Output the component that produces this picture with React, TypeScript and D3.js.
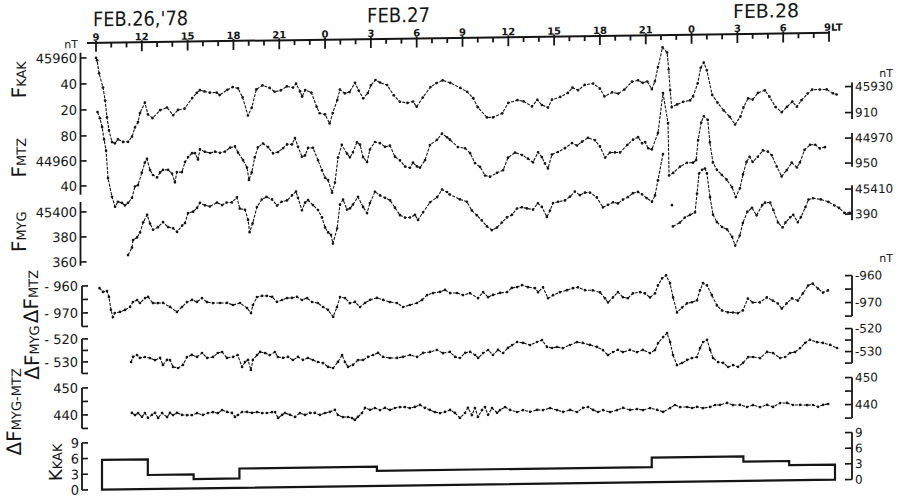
import React from "react";
import * as d3 from "d3";

// ---- time axis ----
const HOUR_START = 9;
const HOUR_END = 57;
const MAJOR_HOURS = [9, 12, 15, 18, 21, 24, 27, 30, 33, 36, 39, 42, 45, 48, 51, 54, 57];
const MAJOR_LABELS = ["9", "12", "15", "18", "21", "0", "3", "6", "9", "12", "15", "18", "21", "0", "3", "6", "9LT"];
const DATE_LABELS = ["FEB.26,'78", "FEB.27", "FEB.28"];

// ---- series: [hour since Feb26 00LT, value nT] ----
const fKAK: [number, number][] = [
  [9.0,45960],[9.07,45958],[9.2,45948],[9.46,45937],[9.6,45927],[9.72,45914],[9.85,45904],[10.05,45895],[10.24,45894],[10.44,45897],[10.77,45895],[11.1,45895],[11.36,45899],[11.55,45906],[11.75,45910],[11.88,45917],[12.2,45925],[12.4,45916],[12.7,45913],[13.2,45919],[13.65,45921],[14.05,45915],[14.37,45919],[14.8,45920],[15.3,45928],[15.6,45932],[15.8,45934],[16.1,45933],[16.46,45932],[16.9,45932],[17.1,45930],[17.6,45934],[17.95,45936],[18.3,45935],[18.6,45928],[18.95,45914],[19.2,45920],[19.5,45934],[19.9,45937],[20.37,45935],[20.7,45932],[21.1,45933],[21.5,45936],[21.9,45935],[22.1,45938],[22.36,45932],[22.5,45928],[22.7,45933],[23.1,45931],[23.45,45920],[23.65,45915],[24.0,45914],[24.3,45907],[24.5,45915],[24.8,45925],[24.97,45933],[25.3,45930],[25.6,45931],[25.96,45938],[26.2,45932],[26.5,45926],[26.8,45930],[27.0,45936],[27.3,45940],[27.6,45938],[28.06,45936],[28.5,45928],[28.9,45923],[29.4,45922],[29.76,45923],[30.0,45919],[30.4,45926],[30.9,45934],[31.3,45937],[31.7,45939],[32.2,45937],[32.85,45933],[33.3,45930],[33.7,45925],[34.0,45918],[34.6,45910],[35.0,45910],[35.6,45913],[36.0,45921],[36.6,45923],[37.0,45922],[37.55,45918],[37.9,45923],[38.2,45919],[38.6,45917],[38.86,45923],[39.4,45925],[39.9,45928],[40.2,45932],[40.57,45930],[41.0,45934],[41.55,45935],[42.0,45931],[42.3,45925],[42.8,45928],[43.2,45927],[43.6,45930],[44.1,45936],[44.5,45937],[44.8,45935],[45.1,45936],[45.4,45930],[45.6,45936],[45.8,45947],[46.1,45962],[46.4,45958],[46.5,45945],[46.6,45929],[46.7,45916],[47.05,45918],[47.45,45920],[47.9,45921],[48.1,45924],[48.4,45934],[48.6,45946],[48.8,45950],[49.0,45944],[49.35,45925],[49.7,45919],[50.1,45913],[50.5,45908],[50.85,45902],[51.2,45908],[51.4,45915],[51.7,45922],[52.0,45921],[52.35,45926],[52.8,45928],[53.1,45923],[53.5,45915],[53.9,45911],[54.25,45915],[54.6,45919],[54.9,45915],[55.2,45920],[55.6,45925],[55.9,45928],[56.4,45928],[56.85,45928],[57.25,45925],[57.5,45924]
];

const fMTZ: [number, number][] = [
  [9.0,44999],[9.16,44994],[9.3,44987],[9.43,44977],[9.56,44968],[9.69,44946],[9.95,44931],[10.15,44923],[10.34,44927],[10.6,44926],[10.8,44924],[11.0,44926],[11.26,44930],[11.45,44939],[11.65,44940],[11.9,44950],[12.1,44958],[12.24,44961],[12.44,44952],[12.63,44948],[12.9,44946],[13.1,44950],[13.29,44952],[13.62,44952],[13.88,44949],[14.07,44942],[14.2,44950],[14.53,44950],[14.73,44958],[14.93,44962],[15.19,44965],[15.38,44965],[15.58,44960],[15.71,44968],[16.04,44966],[16.37,44965],[16.7,44966],[17.02,44965],[17.35,44966],[17.68,44969],[18.0,44970],[18.2,44965],[18.53,44959],[18.79,44953],[18.92,44943],[19.1,44949],[19.3,44961],[19.5,44969],[19.84,44972],[20.17,44969],[20.5,44964],[20.82,44965],[21.15,44968],[21.41,44971],[21.74,44971],[21.93,44976],[22.13,44969],[22.39,44961],[22.59,44962],[22.79,44968],[23.11,44968],[23.44,44958],[23.7,44950],[23.9,44944],[24.1,44942],[24.36,44932],[24.55,44940],[24.75,44960],[25.0,44970],[25.34,44963],[25.53,44960],[25.73,44964],[25.99,44972],[26.19,44970],[26.39,44960],[26.65,44956],[26.84,44966],[27.17,44972],[27.5,44971],[27.83,44968],[28.15,44969],[28.48,44960],[28.81,44957],[29.14,44952],[29.46,44951],[29.66,44955],[29.92,44952],[30.12,44951],[30.45,44957],[30.77,44969],[31.23,44973],[31.56,44978],[31.89,44975],[32.08,44973],[32.6,44967],[33.07,44966],[33.4,44962],[33.72,44954],[34.05,44951],[34.38,44944],[34.7,44943],[35.16,44946],[35.56,44948],[35.88,44958],[36.34,44962],[36.8,44960],[37.19,44957],[37.52,44954],[37.85,44962],[38.1,44958],[38.3,44953],[38.5,44949],[38.76,44960],[39.15,44962],[39.61,44965],[40.07,44969],[40.4,44967],[40.73,44970],[41.12,44973],[41.58,44971],[41.9,44966],[42.24,44957],[42.56,44961],[42.89,44961],[43.22,44961],[43.7,44967],[44.07,44971],[44.4,44973],[44.66,44968],[44.86,44969],[45.06,44964],[45.3,44963],[45.7,44976],[46.03,45008],[46.36,44984],[46.43,44942],[46.7,44944],[47.15,44949],[47.6,44952],[48.0,44952],[48.2,44954],[48.33,44970],[48.53,44984],[48.7,44989],[48.96,44986],[49.1,44968],[49.3,44952],[49.56,44946],[49.88,44942],[50.2,44938],[50.55,44932],[50.8,44924],[51.07,44931],[51.27,44942],[51.5,44952],[51.7,44956],[51.9,44952],[52.24,44956],[52.57,44961],[52.9,44960],[53.16,44957],[53.48,44948],[53.8,44940],[54.14,44945],[54.46,44951],[54.8,44947],[55.0,44951],[55.3,44961],[55.66,44965],[56.0,44965],[56.3,44962],[56.64,44963]
];

const fMYG: [number, number | null][] = [
  [10.94,45365],[11.2,45371],[11.27,45377],[11.53,45379],[11.73,45383],[11.93,45391],[12.19,45397],[12.38,45390],[12.58,45385],[12.9,45387],[13.23,45391],[13.56,45387],[13.89,45386],[14.15,45383],[14.48,45388],[14.67,45390],[14.87,45398],[15.2,45399],[15.46,45402],[15.65,45406],[15.98,45404],[16.3,45403],[16.76,45406],[17.1,45404],[17.4,45406],[17.74,45406],[18.07,45410],[18.26,45401],[18.6,45400],[18.8,45392],[18.9,45382],[19.1,45389],[19.38,45402],[19.7,45408],[20.0,45410],[20.37,45408],[20.7,45403],[21.0,45406],[21.35,45407],[21.68,45411],[21.94,45414],[22.07,45409],[22.33,45399],[22.53,45405],[22.73,45407],[23.05,45403],[23.38,45399],[23.64,45393],[23.84,45385],[24.04,45381],[24.23,45379],[24.36,45372],[24.63,45384],[24.82,45403],[25.02,45407],[25.28,45399],[25.48,45400],[25.67,45403],[26.0,45409],[26.33,45401],[26.59,45396],[26.78,45404],[27.11,45413],[27.44,45410],[27.77,45408],[28.1,45406],[28.42,45400],[28.75,45394],[29.08,45392],[29.4,45392],[29.73,45394],[29.93,45390],[30.26,45396],[30.72,45404],[31.18,45408],[31.5,45414],[31.83,45412],[32.0,45410],[32.67,45406],[33.13,45404],[33.45,45397],[33.78,45393],[34.1,45389],[34.44,45384],[34.77,45381],[35.1,45383],[35.42,45387],[35.75,45391],[36.08,45393],[36.41,45398],[36.73,45399],[37.06,45398],[37.46,45397],[37.78,45402],[38.04,45399],[38.37,45391],[38.57,45396],[38.77,45402],[39.1,45403],[39.55,45404],[39.88,45407],[40.2,45411],[40.53,45408],[40.86,45410],[41.19,45410],[41.64,45406],[42.04,45398],[42.37,45400],[42.7,45402],[43.02,45401],[43.35,45404],[43.68,45406],[44.0,45409],[44.33,45410],[44.6,45408],[44.9,45405],[45.25,45402],[45.45,45407],[45.64,45419],[45.97,45440],[46.3,null],[46.56,45399],[46.59,null],[46.62,45382],[47.08,45385],[47.4,45389],[47.74,45391],[48.07,45393],[48.2,45408],[48.33,45424],[48.53,45427],[48.72,45428],[48.85,45424],[49.05,45405],[49.25,45391],[49.5,45385],[49.84,45381],[50.17,45379],[50.5,45373],[50.7,45366],[51.0,45374],[51.2,45384],[51.5,45393],[51.8,45396],[52.1,45390],[52.47,45398],[52.66,45400],[52.99,45400],[53.2,45394],[53.5,45384],[53.8,45380],[54.0,45384],[54.3,45388],[54.5,45390],[54.8,45384],[55.0,45388],[55.3,45396],[55.5,45402],[55.8,45403],[56.3,45402],[56.8,45400],[57.2,45397],[57.5,45395],[57.85,45391],[58.2,45391]
];

const dFMTZ: [number, number][] = [
  [9.0,-960.9],[9.23,-962.3],[9.49,-962.0],[9.62,-964.2],[9.75,-969.0],[9.88,-971.7],[10.0,-970.2],[10.34,-969.8],[10.67,-969.1],[11.0,-968.0],[11.19,-966.2],[11.46,-965.5],[11.65,-966.6],[11.98,-964.8],[12.18,-964.4],[12.5,-966.7],[12.83,-966.7],[13.16,-966.7],[13.62,-968.2],[14.07,-970.1],[14.4,-968.3],[14.73,-966.5],[15.06,-965.7],[15.38,-966.5],[15.71,-965.1],[16.04,-966.6],[16.43,-967.0],[16.9,-967.0],[17.35,-967.0],[17.74,-967.8],[18.2,-967.1],[18.66,-969.0],[18.92,-970.9],[19.05,-967.9],[19.31,-965.0],[19.64,-964.6],[19.97,-964.6],[20.3,-965.0],[20.62,-966.9],[20.95,-966.2],[21.28,-965.5],[21.6,-965.5],[21.93,-965.1],[22.26,-966.3],[22.59,-965.6],[22.92,-967.1],[23.3,-967.5],[23.64,-969.0],[23.96,-970.1],[24.3,-972.7],[24.55,-969.1],[24.75,-965.4],[25.08,-965.8],[25.4,-967.7],[25.73,-967.3],[26.06,-969.2],[26.39,-967.7],[26.72,-966.6],[27.17,-965.9],[27.57,-966.7],[28.02,-967.5],[28.48,-967.9],[28.88,-969.4],[29.33,-968.7],[29.79,-968.0],[30.12,-966.9],[30.45,-965.1],[30.84,-964.4],[31.3,-964.0],[31.63,-963.3],[31.96,-964.5],[32.41,-964.5],[32.8,-965.3],[33.26,-964.6],[33.79,-966.5],[34.12,-964.3],[34.45,-966.2],[34.77,-965.4],[35.23,-964.7],[35.69,-964.4],[36.0,-962.9],[36.35,-962.6],[36.67,-961.9],[37.06,-962.7],[37.52,-963.1],[37.72,-964.6],[38.04,-962.8],[38.37,-966.9],[38.7,-965.8],[39.15,-964.7],[39.61,-964.0],[40.0,-963.3],[40.33,-963.0],[40.79,-964.1],[41.3,-964.2],[41.78,-965.0],[42.1,-967.2],[42.3,-968.7],[42.63,-966.9],[42.95,-965.0],[43.28,-966.9],[43.6,-967.3],[43.93,-965.5],[44.4,-965.1],[44.72,-965.6],[45.05,-967.1],[45.38,-965.6],[45.57,-962.7],[45.84,-960.1],[46.1,-959.0],[46.36,-962.0],[46.56,-967.2],[46.82,-972.8],[47.15,-971.0],[47.47,-969.5],[47.8,-969.1],[48.13,-968.4],[48.32,-964.7],[48.52,-962.1],[48.78,-962.9],[49.1,-966.6],[49.43,-970.4],[49.76,-972.3],[50.15,-973.0],[50.48,-973.1],[50.8,-973.4],[51.13,-972.4],[51.46,-968.0],[51.78,-969.5],[52.24,-969.5],[52.7,-967.7],[53.09,-968.9],[53.42,-970.0],[53.68,-971.9],[54.0,-970.0],[54.34,-968.2],[54.73,-969.0],[55.06,-966.4],[55.4,-963.5],[55.7,-962.8],[56.05,-964.7],[56.38,-966.2],[56.7,-965.4]
];

const dFMYG: [number, number][] = [
  [11.02,-530.3],[11.15,-528.1],[11.41,-527.3],[11.6,-528.6],[11.93,-528.2],[12.26,-528.7],[12.59,-529.6],[12.92,-528.7],[13.11,-531.8],[13.37,-529.6],[13.57,-529.7],[13.77,-532.7],[14.1,-533.2],[14.42,-531.9],[14.68,-528.5],[15.0,-527.6],[15.34,-528.5],[15.67,-526.8],[16.0,-529.0],[16.39,-528.6],[16.7,-526.9],[16.98,-526.5],[17.3,-529.1],[17.7,-528.7],[18.0,-527.9],[18.29,-533.1],[18.48,-531.0],[18.68,-530.1],[18.87,-534.5],[19.0,-530.1],[19.27,-528.0],[19.47,-526.7],[19.8,-527.2],[20.1,-528.1],[20.44,-526.8],[20.64,-529.0],[20.97,-529.4],[21.3,-529.0],[21.62,-530.4],[21.95,-529.1],[22.28,-530.4],[22.6,-529.6],[22.93,-530.5],[23.26,-531.4],[23.59,-531.9],[23.92,-533.6],[24.25,-534.1],[24.57,-531.5],[24.84,-528.5],[25.03,-531.6],[25.23,-533.7],[25.55,-532.9],[25.88,-530.8],[26.21,-530.8],[26.54,-529.5],[26.87,-528.7],[27.19,-527.8],[27.52,-529.6],[27.98,-530.1],[28.44,-530.1],[28.83,-529.7],[29.29,-528.9],[29.75,-529.8],[30.14,-528.1],[30.6,-527.7],[31.05,-526.9],[31.45,-528.3],[31.9,-527.8],[32.24,-530.0],[32.56,-530.5],[32.9,-528.3],[33.22,-527.9],[33.55,-529.3],[33.75,-530.6],[34.07,-528.5],[34.4,-527.2],[34.72,-529.4],[35.05,-527.2],[35.38,-528.6],[35.7,-526.4],[35.97,-525.2],[36.3,-523.9],[36.69,-524.3],[37.15,-525.3],[37.6,-524.0],[37.93,-523.2],[38.26,-526.2],[38.59,-526.7],[38.91,-526.3],[39.3,-526.8],[39.76,-525.5],[40.22,-524.3],[40.6,-524.7],[41.07,-525.6],[41.53,-526.5],[41.92,-527.9],[42.25,-530.1],[42.58,-528.8],[42.9,-527.9],[43.23,-528.9],[43.69,-528.0],[44.15,-529.0],[44.54,-528.1],[45.0,-529.5],[45.33,-528.2],[45.53,-525.2],[45.86,-522.6],[46.12,-520.9],[46.32,-524.8],[46.51,-530.5],[46.77,-534.9],[47.1,-534.0],[47.43,-532.7],[47.75,-531.9],[48.08,-531.5],[48.28,-527.6],[48.48,-525.0],[48.74,-524.1],[48.94,-528.5],[49.13,-532.0],[49.46,-533.8],[49.79,-534.2],[50.12,-536.0],[50.44,-535.2],[50.77,-536.0],[51.1,-534.3],[51.43,-531.8],[51.75,-531.8],[52.21,-532.3],[52.67,-529.7],[53.06,-530.2],[53.52,-532.4],[53.85,-532.0],[54.17,-530.3],[54.5,-529.9],[54.83,-528.2],[55.16,-526.0],[55.48,-524.7],[55.94,-525.7],[56.33,-526.1],[56.8,-527.0],[57.25,-528.4]
];

const dFMYG_MTZ: [number, number][] = [
  [11.02,440.5],[11.22,439.7],[11.42,440.4],[11.68,439.0],[11.87,440.4],[12.07,438.6],[12.33,439.7],[12.53,440.4],[12.73,438.5],[12.99,440.3],[13.32,438.8],[13.51,440.3],[13.71,439.5],[13.97,440.3],[14.3,439.5],[14.63,439.4],[14.95,439.4],[15.28,440.1],[15.67,439.4],[16.0,440.1],[16.33,440.4],[16.65,440.0],[16.92,441.1],[17.25,440.4],[17.57,440.0],[17.77,438.5],[17.96,439.2],[18.23,440.3],[18.56,440.3],[18.88,439.9],[19.21,440.2],[19.54,439.8],[19.86,439.8],[20.19,440.1],[20.39,440.1],[20.59,437.9],[20.85,439.0],[21.04,439.7],[21.37,439.0],[21.7,438.2],[22.02,439.6],[22.35,438.9],[22.68,439.6],[23.0,439.6],[23.33,438.8],[23.66,439.5],[23.98,439.9],[24.31,440.6],[24.51,438.7],[24.84,437.9],[25.16,437.9],[25.43,437.5],[25.62,436.8],[25.82,437.9],[26.08,439.3],[26.28,441.2],[26.61,440.4],[26.93,441.1],[27.26,440.3],[27.59,441.1],[27.92,440.3],[28.24,441.0],[28.57,441.3],[28.9,441.3],[29.22,440.9],[29.55,441.3],[29.88,442.0],[30.21,440.9],[30.53,440.1],[30.86,439.3],[31.19,438.9],[31.52,439.3],[31.85,440.0],[32.17,438.9],[32.5,437.0],[32.83,438.8],[33.02,440.7],[33.28,438.0],[33.48,440.6],[33.68,437.3],[33.94,439.8],[34.14,440.9],[34.34,438.0],[34.6,440.5],[34.93,438.7],[35.12,439.7],[35.45,440.8],[35.78,439.7],[36.24,438.9],[36.63,439.6],[37.09,438.9],[37.55,439.6],[37.94,439.5],[38.4,440.2],[38.86,439.4],[39.25,438.7],[39.71,439.4],[40.17,438.6],[40.56,440.1],[40.89,440.4],[41.22,439.3],[41.54,438.5],[41.87,439.2],[42.33,438.4],[42.79,439.1],[43.18,439.9],[43.64,439.1],[44.1,439.4],[44.49,439.0],[44.95,439.7],[45.41,439.0],[45.8,438.2],[46.26,439.6],[46.58,440.7],[46.91,439.9],[47.37,439.9],[47.7,439.5],[48.02,439.9],[48.42,439.4],[48.88,439.8],[49.21,440.5],[49.53,440.5],[49.99,441.2],[50.38,440.4],[50.84,440.4],[51.3,439.6],[51.69,440.3],[52.15,439.5],[52.61,440.3],[53.0,439.5],[53.46,440.9],[53.92,440.9],[54.31,440.1],[54.77,440.1],[55.23,440.0],[55.62,440.0],[55.95,439.3],[56.28,440.0],[56.61,440.3]
];

// K index (KAK): step starts (hours) and values, ending at HOUR_END
const K_STARTS = [9, 12, 15, 18, 27, 45, 51, 54];
const K_VALUES = [5.7, 2.7, 1.8, 3.7, 2.9, 4.7, 3.7, 2.9];

// ---- axis ticks ----
const FKAK_TICKS = [45960, 45940, 45920];
const FKAK_LABELS = ["45960", "40", "20"];
const FMTZ_TICKS = [44980, 44960, 44940];
const FMTZ_LABELS = ["80", "44960", "40"];
const FMYG_TICKS = [45400, 45380, 45360];
const FMYG_LABELS = ["45400", "380", "360"];
const FKAK_R_TICKS = [45930, 45910];
const FKAK_R_LABELS = ["45930", "910"];
const FMTZ_R_TICKS = [44970, 44950];
const FMTZ_R_LABELS = ["44970", "950"];
const FMYG_R_TICKS = [45410, 45390];
const FMYG_R_LABELS = ["45410", "390"];
const DMTZ_TICKS = [-960, -965, -970, -975];
const DMTZ_LABELS = ["-960", "", "-970", ""];
const DMYG_TICKS = [-520, -525, -530, -535];
const DMYG_LABELS = ["-520", "", "-530", ""];
const DMM_TICKS = [450, 445, 440, 435];
const DMM_LABELS = ["450", "", "440", ""];
const K_TICKS = [9, 6, 3, 0];
const K_LABELS = ["9", "6", "3", "0"];

const FONT = "'DejaVu Sans', 'Liberation Sans', sans-serif";
const INK = "#151515";

const x = d3.scaleLinear().domain([HOUR_START, HOUR_END]).range([96, 829]);

const yKAK = d3.scaleLinear().domain([45960, 45920]).range([58, 110]);
const yMTZ = d3.scaleLinear().domain([44980, 44940]).range([136, 186]);
const yMYG = d3.scaleLinear().domain([45400, 45360]).range([212, 262]);
const yDMTZ = d3.scaleLinear().domain([-960, -970]).range([286, 313]);
const yDMYG = d3.scaleLinear().domain([-520, -530]).range([339, 362]);
const yDMM = d3.scaleLinear().domain([450, 440]).range([388, 415]);
const yK = d3.scaleLinear().domain([0, 9]).range([490, 443]);

const LEFT_F = 80.5;
const LEFT_D = 82;
const RIGHT = 852;

function Series({ data, y, dx }: { data: [number, number | null][]; y: d3.ScaleLinear<number, number>; dx: number }) {
  const line = d3
    .line<[number, number | null]>()
    .defined((d) => d[1] != null)
    .x((d) => x(d[0]) + dx)
    .y((d) => y(d[1] as number));
  const pts = data.filter((d) => d[1] != null);
  return (
    <g>
      <path d={line(data) || ""} fill="none" stroke={INK} strokeWidth={1.1} strokeDasharray="3 1.3" />
      {pts.map((d, i) => (
        <circle key={i} cx={x(d[0]) + dx} cy={y(d[1] as number)} r={1.35} fill={INK} />
      ))}
    </g>
  );
}

function LeftTicks({ ticks, labels, y, ax, len, fs, labelX }: { ticks: number[]; labels: string[]; y: d3.ScaleLinear<number, number>; ax: number; len: number; fs: number; labelX: number }) {
  return (
    <g>
      {ticks.map((t, i) => (
        <g key={i}>
          <line x1={ax} x2={ax + len} y1={y(t)} y2={y(t)} stroke={INK} strokeWidth={1.6} />
          {labels[i] ? (
            <text x={labelX} y={y(t) + fs * 0.36} fontSize={fs} textAnchor="end" fill={INK} fontFamily={FONT}>
              {labels[i]}
            </text>
          ) : null}
        </g>
      ))}
    </g>
  );
}

function RightTicks({ ticks, labels, y, fs }: { ticks: number[]; labels: string[]; y: d3.ScaleLinear<number, number>; fs: number }) {
  return (
    <g>
      {ticks.map((t, i) => (
        <g key={i}>
          <line x1={RIGHT - 7} x2={RIGHT} y1={y(t)} y2={y(t)} stroke={INK} strokeWidth={1.6} />
          {labels[i] ? (
            <text x={RIGHT + 3} y={y(t) + fs * 0.36} fontSize={fs} textAnchor="start" fill={INK} fontFamily={FONT}>
              {labels[i]}
            </text>
          ) : null}
        </g>
      ))}
    </g>
  );
}

function VTitle({ cx, cy, pre, main, sub, big, small }: { cx: number; cy: number; pre?: string; main: string; sub: string; big: number; small: number }) {
  return (
    <text transform={`translate(${cx},${cy}) rotate(-90)`} textAnchor="middle" fill={INK} fontFamily={FONT}>
      {pre ? <tspan fontSize={big}>{pre}</tspan> : null}
      <tspan fontSize={big}>{main}</tspan>
      <tspan fontSize={small}>{sub}</tspan>
    </text>
  );
}

export default function App() {
  const minor = d3.range(HOUR_START, HOUR_END + 1);
  const kPath = (() => {
    const dx = 6;
    let p = `M${x(K_STARTS[0]) + dx},${yK(0)}`;
    K_STARTS.forEach((s, i) => {
      const e = i < K_STARTS.length - 1 ? K_STARTS[i + 1] : HOUR_END;
      p += ` V${yK(K_VALUES[i])} H${x(e) + dx}`;
    });
    p += ` V${yK(0)} Z`;
    return p;
  })();

  return (
    <svg width={900} height={500} style={{ position: "fixed", left: 0, top: 0, background: "#fff" }}>
      <rect width={900} height={500} fill="#fff" />
      <g transform="translate(80,0) skewY(-0.78) translate(-80,0)">
        {/* date labels */}
        <text x={93} y={26.5} fontSize={20} fill={INK} fontFamily={FONT} textLength={95} lengthAdjust="spacingAndGlyphs">{DATE_LABELS[0]}</text>
        <text x={367} y={26.5} fontSize={20} fill={INK} fontFamily={FONT} textLength={63} lengthAdjust="spacingAndGlyphs">{DATE_LABELS[1]}</text>
        <text x={733} y={27} fontSize={19} fill={INK} fontFamily={FONT} textLength={66} lengthAdjust="spacingAndGlyphs">{DATE_LABELS[2]}</text>

        {/* time axis */}
        <line x1={87} x2={x(HOUR_END) + 1} y1={43} y2={43} stroke={INK} strokeWidth={2} />
        {minor.map((h) => {
          const major = (h - HOUR_START) % 3 === 0;
          return <line key={h} x1={x(h)} x2={x(h)} y1={major ? 41 : 43} y2={major ? 52 : 48} stroke={INK} strokeWidth={1.8} />;
        })}
        {MAJOR_HOURS.map((h, i) => (
          <text key={h} x={i === MAJOR_HOURS.length - 1 ? x(h) - 5 : x(h)} y={41} fontSize={10} fontWeight="bold" textAnchor={i === MAJOR_HOURS.length - 1 ? "start" : "middle"} fill={INK} fontFamily={FONT}>
            {MAJOR_LABELS[i]}
          </text>
        ))}

        {/* left F axes */}
        <text x={78} y={48} fontSize={11} textAnchor="end" fill={INK} fontFamily={FONT}>nT</text>
        <line x1={LEFT_F} x2={LEFT_F} y1={yKAK(45964)} y2={yMTZ(44933)} stroke={INK} strokeWidth={1.8} />
        <line x1={LEFT_F} x2={LEFT_F} y1={yMYG(45408)} y2={yMYG(45357)} stroke={INK} strokeWidth={1.8} />
        <LeftTicks ticks={FKAK_TICKS} labels={FKAK_LABELS} y={yKAK} ax={LEFT_F} len={6} fs={13} labelX={77} />
        <LeftTicks ticks={FMTZ_TICKS} labels={FMTZ_LABELS} y={yMTZ} ax={LEFT_F} len={6} fs={13} labelX={77} />
        <LeftTicks ticks={FMYG_TICKS} labels={FMYG_LABELS} y={yMYG} ax={LEFT_F} len={6} fs={13} labelX={77} />

        {/* left delta axes */}
        <line x1={LEFT_D} x2={LEFT_D} y1={yDMTZ(-960)} y2={yDMTZ(-975)} stroke={INK} strokeWidth={1.8} />
        <line x1={LEFT_D} x2={LEFT_D} y1={yDMYG(-520)} y2={yDMYG(-535)} stroke={INK} strokeWidth={1.8} />
        <line x1={LEFT_D} x2={LEFT_D} y1={yDMM(450)} y2={yDMM(435)} stroke={INK} strokeWidth={1.8} />
        <line x1={LEFT_D} x2={LEFT_D} y1={yK(9)} y2={yK(0)} stroke={INK} strokeWidth={1.8} />
        <LeftTicks ticks={DMTZ_TICKS} labels={DMTZ_LABELS.map((s) => (s ? s.replace("-", "- ") : s))} y={yDMTZ} ax={LEFT_D} len={6} fs={13} labelX={78} />
        <LeftTicks ticks={DMYG_TICKS} labels={DMYG_LABELS.map((s) => (s ? s.replace("-", "- ") : s))} y={yDMYG} ax={LEFT_D} len={6} fs={13} labelX={78} />
        <LeftTicks ticks={DMM_TICKS} labels={DMM_LABELS} y={yDMM} ax={LEFT_D} len={6} fs={13} labelX={78} />
        <LeftTicks ticks={K_TICKS} labels={K_LABELS} y={yK} ax={LEFT_D} len={6} fs={13} labelX={79} />

        {/* right axes */}
        <text x={893} y={88} fontSize={11} textAnchor="end" fill={INK} fontFamily={FONT}>nT</text>
        <line x1={RIGHT} x2={RIGHT} y1={yKAK(45933)} y2={yKAK(45905)} stroke={INK} strokeWidth={1.8} />
        <line x1={RIGHT} x2={RIGHT} y1={yMTZ(44974)} y2={yMTZ(44947)} stroke={INK} strokeWidth={1.8} />
        <line x1={RIGHT} x2={RIGHT} y1={yMYG(45413)} y2={yMYG(45385)} stroke={INK} strokeWidth={1.8} />
        <RightTicks ticks={FKAK_R_TICKS} labels={FKAK_R_LABELS} y={yKAK} fs={12} />
        <RightTicks ticks={FMTZ_R_TICKS} labels={FMTZ_R_LABELS} y={yMTZ} fs={12} />
        <RightTicks ticks={FMYG_R_TICKS} labels={FMYG_R_LABELS} y={yMYG} fs={12} />

        <text x={893} y={273} fontSize={11} textAnchor="end" fill={INK} fontFamily={FONT}>nT</text>
        <line x1={RIGHT} x2={RIGHT} y1={yDMTZ(-960)} y2={yDMTZ(-975)} stroke={INK} strokeWidth={1.8} />
        <line x1={RIGHT} x2={RIGHT} y1={yDMYG(-520)} y2={yDMYG(-535)} stroke={INK} strokeWidth={1.8} />
        <line x1={RIGHT} x2={RIGHT} y1={yDMM(450)} y2={yDMM(435)} stroke={INK} strokeWidth={1.8} />
        <line x1={RIGHT} x2={RIGHT} y1={yK(9)} y2={yK(0)} stroke={INK} strokeWidth={1.8} />
        <RightTicks ticks={DMTZ_TICKS} labels={DMTZ_LABELS} y={yDMTZ} fs={12} />
        <RightTicks ticks={DMYG_TICKS} labels={DMYG_LABELS} y={yDMYG} fs={12} />
        <RightTicks ticks={DMM_TICKS} labels={DMM_LABELS} y={yDMM} fs={12} />
        <RightTicks ticks={K_TICKS} labels={K_LABELS} y={yK} fs={12} />

        {/* titles */}
        <VTitle cx={26} cy={79} main="F" sub="KAK" big={20} small={13} />
        <VTitle cx={26} cy={157} main="F" sub="MTZ" big={20} small={13} />
        <VTitle cx={26} cy={231} main="F" sub="MYG" big={20} small={13} />
        <VTitle cx={38} cy={296} pre="Δ" main="F" sub="MTZ" big={20} small={13} />
        <VTitle cx={39} cy={352} pre="Δ" main="F" sub="MYG" big={20} small={13} />
        <VTitle cx={21} cy={411} pre="Δ" main="F" sub="MYG-MTZ" big={20} small={13} />
        <VTitle cx={62} cy={462} main="K" sub="KAK" big={18} small={13} />

        {/* data */}
        <Series data={fKAK} y={yKAK} dx={0} />
        <Series data={fMTZ} y={yMTZ} dx={1.5} />
        <Series data={fMYG} y={yMYG} dx={2.4} />
        <Series data={dFMTZ} y={yDMTZ} dx={3.5} />
        <Series data={dFMYG} y={yDMYG} dx={4.2} />
        <Series data={dFMYG_MTZ} y={yDMM} dx={5.1} />
        <path d={kPath} fill="none" stroke={INK} strokeWidth={2.2} />
      </g>
    </svg>
  );
}
